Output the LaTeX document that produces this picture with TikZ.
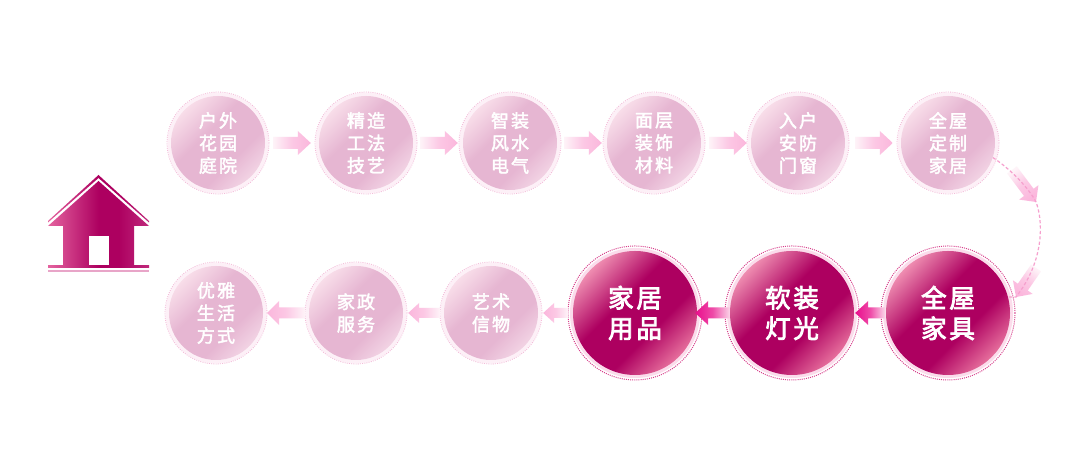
\documentclass[tikz,border=0pt]{standalone}
\usepackage{fontspec}
\usetikzlibrary{calc}
\newfontfamily\cjkm[LetterSpace=12,FakeBold=2.4]{Noto Sans CJK SC}
\newfontfamily\cjkb[LetterSpace=11,FakeBold=3.2]{Noto Sans CJK SC}
\definecolor{ringpale}{HTML}{FDF0F7}
\definecolor{ringbig}{HTML}{FBDCEB}
\definecolor{dotpale}{HTML}{F4BBD9}
\definecolor{dotbig}{HTML}{D8408C}
\definecolor{dashpk}{HTML}{F6A0CE}
\definecolor{hlight}{HTML}{E8A5C8}
\definecolor{ca}{HTML}{F8DDE9}
\definecolor{cb}{HTML}{E6B6D2}
\definecolor{cc}{HTML}{F2D3E4}
\definecolor{cd}{HTML}{EE8CB0}
\definecolor{ce}{HTML}{AD0060}
\definecolor{cf}{HTML}{E66E9C}
\definecolor{cg}{HTML}{E4639F}
\definecolor{ch}{HTML}{C02A7C}
\definecolor{aS}{HTML}{FEF3F8}
\definecolor{aE}{HTML}{FBB6DC}
\definecolor{dS}{HTML}{FBD5E8}
\definecolor{dE}{HTML}{E90E8C}
\pgfdeclarehorizontalshading{palecirc}{100bp}{color(0bp)=(ca); color(25bp)=(ca); color(42bp)=(cb); color(62bp)=(cb); color(75bp)=(cc); color(100bp)=(cc)}
\pgfdeclarehorizontalshading{bigcirc}{100bp}{color(0bp)=(cd); color(25bp)=(cd); color(43bp)=(ce); color(60bp)=(ce); color(75bp)=(cf); color(100bp)=(cf)}
\pgfdeclarehorizontalshading{houseshade}{100bp}{color(0bp)=(cg); color(25bp)=(cg); color(50bp)=(ce); color(60bp)=(ce); color(75bp)=(ch); color(100bp)=(ch)}
\tikzset{
 smallc/.style={circle,minimum size=94pt,inner sep=0pt,shading=palecirc,shading angle=-45,
   preaction={draw=ringpale,line width=7pt},text=white,align=center,
   font=\fontsize{18}{22.5}\selectfont\cjkm},
 bigc/.style={circle,minimum size=124pt,inner sep=0pt,shading=bigcirc,shading angle=-45,
   preaction={draw=ringbig,line width=6pt},text=white,align=center,
   font=\fontsize{25.5}{30.5}\selectfont\cjkb},
 dotsmall/.style={draw=dotpale,line width=.8pt,dash pattern=on 1pt off 1.2pt},
 dotlarge/.style={draw=dotbig,line width=1pt,dash pattern=on 1pt off 1.1pt},
 curvelink/.style={draw=dashpk,line width=1.2pt,dash pattern=on 3.2pt off 2.2pt},
}
% tail, tip, start colour, end colour, shading angle, shaft half, head half, head length
\newcommand\blockarrow[8]{%
 \coordinate (Bt) at #1; \coordinate (Bh) at #2;
 \coordinate (Bb) at ($(Bh)!#8pt!(Bt)$);
 \shade[bottom color=#3,top color=#4,middle color=#3!30!#4,shading angle=#5]
  ($(Bt)!#6pt!90:(Bh)$) -- ($(Bb)!#6pt!-90:(Bt)$) -- ($(Bb)!#7pt!-90:(Bt)$) -- (Bh)
  -- ($(Bb)!#7pt!90:(Bt)$) -- ($(Bb)!#6pt!90:(Bt)$) -- ($(Bt)!#6pt!-90:(Bh)$) -- cycle;}
\begin{document}
\begin{tikzpicture}[x=1pt,y=1pt]
\useasboundingbox (0,0) rectangle (1080,473);
\fill[white] (0,0) rectangle (1080,473);
% house
\shade[shading=houseshade] (98.5,298) -- (149,252) -- (149,250.5) -- (98.5,295) -- (48,250.5) -- (48,252) -- cycle;
\shade[shading=houseshade] (98.5,292) -- (149,247) -- (134,247) -- (134,207) -- (63,207) -- (63,247) -- (48,247) -- cycle;
\fill[white] (89,207) rectangle (109,237);
\shade[shading=houseshade] (48,207) rectangle (149,205);
\fill[hlight] (48,203) rectangle (149,201);
% nodes
\node[smallc] (a1) at (218,330) {户外\\花园\\庭院};
\node[smallc] (a2) at (366,330) {精造\\工法\\技艺};
\node[smallc] (a3) at (510,330) {智装\\风水\\电气};
\node[smallc] (a4) at (654,330) {面层\\装饰\\材料};
\node[smallc] (a5) at (798,330) {入户\\安防\\门窗};
\node[smallc] (a6) at (948,330) {全屋\\定制\\家居};
\node[bigc] (b1) at (948,160) {全屋\\家具};
\node[bigc] (b2) at (792,160) {软装\\灯光};
\node[bigc] (b3) at (635,160) {家居\\用品};
\node[smallc] (b4) at (491,160) {艺术\\信物};
\node[smallc] (b5) at (356,160) {家政\\服务};
\node[smallc] (b6) at (216,160) {优雅\\生活\\方式};
% dotted rings
\foreach \n in {a1,a2,a3,a4,a5,a6,b4,b5,b6} \draw[dotsmall] (\n) circle[radius=51];
\foreach \n in {b1,b2,b3} \draw[dotlarge] (\n) circle[radius=67];
% arrows
\blockarrow{($(a1.east)+(8,0)$)}{($(a2.west)+(-8,0)$)}{aS}{aE}{-90}{6}{12}{13}
\blockarrow{($(a2.east)+(7,0)$)}{($(a3.west)+(-5,0)$)}{aS}{aE}{-90}{6}{12}{13}
\blockarrow{($(a3.east)+(7,0)$)}{($(a4.west)+(-5,0)$)}{aS}{aE}{-90}{6}{12}{13}
\blockarrow{($(a4.east)+(8,0)$)}{($(a5.west)+(-4,0)$)}{aS}{aE}{-90}{6}{12}{13}
\blockarrow{($(a5.east)+(10,0)$)}{($(a6.west)+(-8,0)$)}{aS}{aE}{-90}{6}{12}{13}
\blockarrow{($(b1.west)+(-1,0)$)}{($(b2.east)+(1,0)$)}{dS}{dE}{90}{5.5}{12}{13}
\blockarrow{($(b2.west)+(0,0)$)}{($(b3.east)+(-2,0)$)}{dS}{dE}{90}{5.5}{12}{13}
\blockarrow{($(b3.west)+(-5,0)$)}{($(b4.east)+(5,0)$)}{aS}{aE}{90}{5}{10}{11}
\blockarrow{($(b4.west)+(-4,0)$)}{($(b5.east)+(5,0)$)}{aS}{aE}{90}{5}{10}{11}
\blockarrow{($(b5.west)+(-4,0)$)}{($(b6.east)+(4,0)$)}{aS}{aE}{90}{5.5}{12}{12}
% curved link
\coordinate (c1) at (1036,271);
\coordinate (c2) at (1016,176);
\blockarrow{(1012,303)}{(c1)}{aS}{aE}{-144}{6}{12}{12}
\blockarrow{(1036,205)}{(c2)}{aS}{aE}{-215}{6}{12}{12}
\draw[curvelink] (a6.-18) .. controls (1012,303) and (1030,283) .. (c1)
  .. controls (1043,253) and (1045,213) .. (c2) -- (b1.15);
\end{tikzpicture}
\end{document}
